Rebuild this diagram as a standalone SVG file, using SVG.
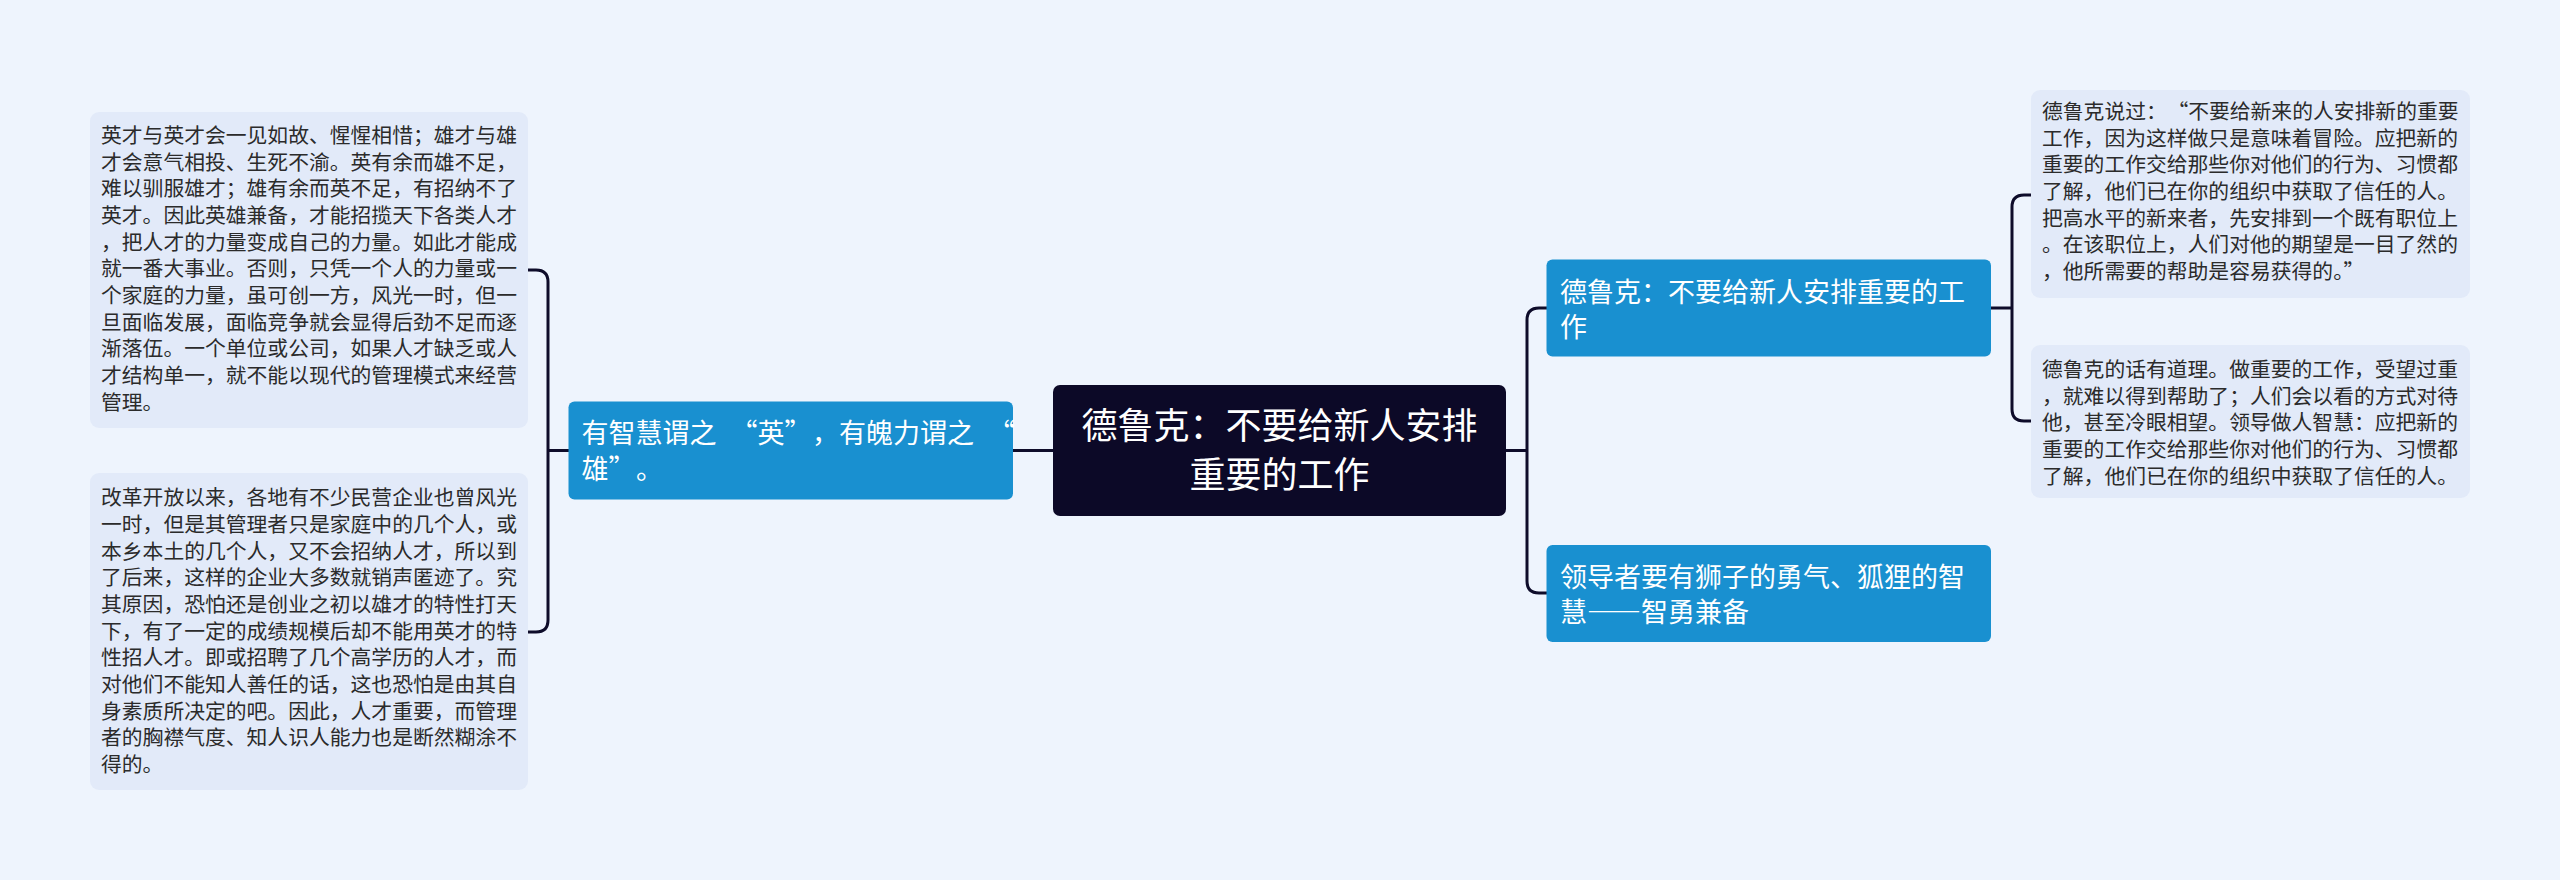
<svg xmlns="http://www.w3.org/2000/svg" width="2560" height="880" viewBox="0 0 2560 880">
<style>
.body{font-family:"Noto Sans CJK SC","Noto Sans",sans-serif;font-size:20.8px;fill:#2b2b2b}
.box{fill:#e2eaf9}
.br{fill:#1990d0}
.brt{font-family:"Noto Sans CJK SC","Noto Sans",sans-serif;font-size:27px;fill:#ffffff}
.ct{font-family:"Noto Sans CJK SC","Noto Sans",sans-serif;font-size:36px;fill:#ffffff}
.conn{fill:none;stroke:#0e0c2a;stroke-width:3}
.fw{font-feature-settings:"fwid" 1}
</style>
<rect x="0" y="0" width="2560" height="880" fill="#eef4fd"/>
<g id="connectors">
<path class="conn" d="M1053 450.5 H1013"/>
<path class="conn" d="M569 450.5 H548 M528 270 H536 Q548 270 548 282 V620 Q548 632 536 632 H528"/>
<path class="conn" d="M1506 450.5 H1527 M1547 308 H1539 Q1527 308 1527 320 V581 Q1527 593 1539 593 H1547"/>
<path class="conn" d="M1991 308 H2012 M2031 195 H2024 Q2012 195 2012 207 V409 Q2012 421 2024 421 H2031"/>
</g>
<g id="center">
<rect x="1053" y="385" width="453" height="131" rx="7" fill="#0c0927"/>
<text class="ct" x="1279.5" y="439" text-anchor="middle">德鲁克：不要给新人安排</text>
<text class="ct" x="1279.5" y="487.5" text-anchor="middle">重要的工作</text>
</g>
<g id="left-branch">
<rect class="br" x="568.5" y="401.5" width="444.5" height="98" rx="6"/>
<text class="brt" x="581.5" y="443">有智慧谓之<tspan dx="14">“</tspan>英”<tspan dx="14">，</tspan>有魄力谓之<tspan dx="14">“</tspan></text>
<text class="brt" x="581.5" y="478.5">雄”<tspan dx="14">。</tspan></text>
</g>
<g id="right-branch-1">
<rect class="br" x="1546.5" y="259.5" width="444.5" height="97" rx="6"/>
<text class="brt" x="1560" y="302">德鲁克：不要给新人安排重要的工</text>
<text class="brt" x="1560" y="336.5">作</text>
</g>
<g id="right-branch-2">
<rect class="br" x="1546.5" y="545" width="444.5" height="97" rx="6"/>
<text class="brt" x="1560" y="586.5">领导者要有狮子的勇气、狐狸的智</text>
<text class="brt fw" x="1560" y="621.5">慧——智勇兼备</text>
</g>
<g id="left-text-1">
<rect class="box" x="90" y="112" width="438" height="316" rx="9"/>
<text class="body" x="101" y="143">英才与英才会一见如故、惺惺相惜；雄才与雄</text>
<text class="body" x="101" y="169.7">才会意气相投、生死不渝。英有余而雄不足，</text>
<text class="body" x="101" y="196.3">难以驯服雄才；雄有余而英不足，有招纳不了</text>
<text class="body" x="101" y="223">英才。因此英雄兼备，才能招揽天下各类人才</text>
<text class="body" x="101" y="249.7">，把人才的力量变成自己的力量。如此才能成</text>
<text class="body" x="101" y="276.3">就一番大事业。否则，只凭一个人的力量或一</text>
<text class="body" x="101" y="303">个家庭的力量，虽可创一方，风光一时，但一</text>
<text class="body" x="101" y="329.7">旦面临发展，面临竞争就会显得后劲不足而逐</text>
<text class="body" x="101" y="356.3">渐落伍。一个单位或公司，如果人才缺乏或人</text>
<text class="body" x="101" y="383">才结构单一，就不能以现代的管理模式来经营</text>
<text class="body" x="101" y="409.7">管理。</text>
</g>
<g id="left-text-2">
<rect class="box" x="90" y="473" width="438" height="317" rx="9"/>
<text class="body" x="101" y="505.3">改革开放以来，各地有不少民营企业也曾风光</text>
<text class="body" x="101" y="532">一时，但是其管理者只是家庭中的几个人，或</text>
<text class="body" x="101" y="558.7">本乡本土的几个人，又不会招纳人才，所以到</text>
<text class="body" x="101" y="585.3">了后来，这样的企业大多数就销声匿迹了。究</text>
<text class="body" x="101" y="612">其原因，恐怕还是创业之初以雄才的特性打天</text>
<text class="body" x="101" y="638.7">下，有了一定的成绩规模后却不能用英才的特</text>
<text class="body" x="101" y="665.3">性招人才。即或招聘了几个高学历的人才，而</text>
<text class="body" x="101" y="692">对他们不能知人善任的话，这也恐怕是由其自</text>
<text class="body" x="101" y="718.7">身素质所决定的吧。因此，人才重要，而管理</text>
<text class="body" x="101" y="745.3">者的胸襟气度、知人识人能力也是断然糊涂不</text>
<text class="body" x="101" y="772">得的。</text>
</g>
<g id="right-text-1">
<rect class="box" x="2031" y="90" width="439" height="208" rx="9"/>
<text class="body" x="2042" y="119">德鲁克说过：<tspan dx="11">“</tspan>不要给新来的人安排新的重要</text>
<text class="body" x="2042" y="145.7">工作，因为这样做只是意味着冒险。应把新的</text>
<text class="body" x="2042" y="172.3">重要的工作交给那些你对他们的行为、习惯都</text>
<text class="body" x="2042" y="199">了解，他们已在你的组织中获取了信任的人。</text>
<text class="body" x="2042" y="225.7">把高水平的新来者，先安排到一个既有职位上</text>
<text class="body" x="2042" y="252.3">。在该职位上，人们对他的期望是一目了然的</text>
<text class="body" x="2042" y="279">，他所需要的帮助是容易获得的。”</text>
</g>
<g id="right-text-2">
<rect class="box" x="2031" y="345" width="439" height="153" rx="9"/>
<text class="body" x="2042" y="377">德鲁克的话有道理。做重要的工作，受望过重</text>
<text class="body" x="2042" y="403.7">，就难以得到帮助了；人们会以看的方式对待</text>
<text class="body" x="2042" y="430.3">他，甚至冷眼相望。领导做人智慧：应把新的</text>
<text class="body" x="2042" y="457">重要的工作交给那些你对他们的行为、习惯都</text>
<text class="body" x="2042" y="483.7">了解，他们已在你的组织中获取了信任的人。</text>
</g>
</svg>
